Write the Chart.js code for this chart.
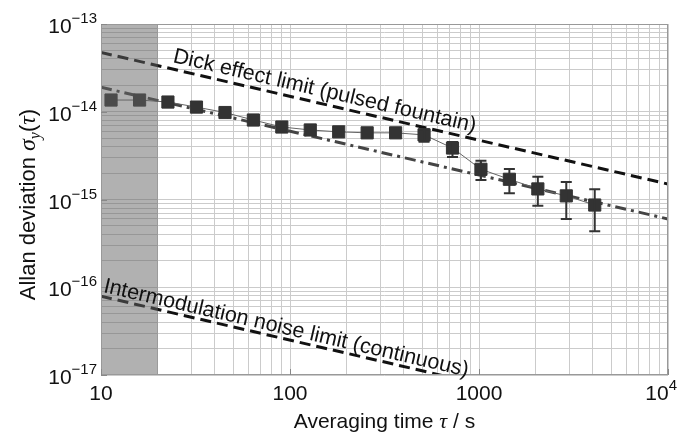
<!DOCTYPE html>
<html>
<head>
<meta charset="utf-8">
<script src="https://cdn.jsdelivr.net/npm/chart.js@4.4.1/dist/chart.umd.min.js"></script>
<style>
  body { margin: 0; background: #fff; }
  #wrap { width: 685px; height: 437px; }
</style>
</head>
<body>
<div id="wrap"><canvas id="adev" width="685" height="437"></canvas></div>
<script>
// Measured Allan deviation
const tau = [11.3, 16, 22.6, 32, 45.3, 64, 90.5, 128, 181, 256, 362, 512, 724, 1024, 1448, 2048, 2896, 4096];
const adev = [1.36e-14, 1.36e-14, 1.29e-14, 1.13e-14, 9.8e-15, 8.05e-15, 6.7e-15, 6.2e-15, 5.9e-15, 5.75e-15,
  5.75e-15, 5.45e-15, 3.86e-15, 2.21e-15, 1.70e-15, 1.32e-15, 1.10e-15, 8.65e-16];
const errLow = [null, null, null, null, null, null, null, null, null, null,
  null, 4.56e-15, 3.05e-15, 1.67e-15, 1.18e-15, 8.5e-16, 6.0e-16, 4.34e-16];
const errHigh = [null, null, null, null, null, null, null, null, null, null,
  null, 6.3e-15, 4.52e-15, 2.77e-15, 2.23e-15, 1.82e-15, 1.58e-15, 1.31e-15];

// Limit lines, values at the two ends of the tau axis
const limitTau = [10, 10000];
const dickLimit = [4.74e-14, 1.5e-15];
const fitLine = [1.9e-14, 6.0e-16];
const intermodLimit = [7.9e-17, 2.5e-18];

// Shaded region (dead time)
const bandTau = [10, 20];

// Axis ticks
const xTicks = [10, 100, 1000, 10000];
const xTickLabels = ['10', '100', '1000', '10^4'];
const yTicks = [1e-17, 1e-16, 1e-15, 1e-14, 1e-13];
const yTickLabels = ['10^\u221217', '10^\u221216', '10^\u221215', '10^\u221214', '10^\u221213'];

// Line annotations (anchor = left end of the text baseline)
const dickText = 'Dick effect limit (pulsed fountain)';
const dickTextAt = [23.8, 3.69e-14];
const intermodText = 'Intermodulation noise limit (continuous)';
const intermodTextAt = [10.2, 8.83e-17];

const SANS = '"Liberation Sans", Arial, sans-serif';
const SERIF = '"Liberation Serif", "Times New Roman", serif';

// grid lines at 1..9 x 10^n
function logGrid(loExp, hiExp) {
  const out = [];
  for (let e = loExp; e < hiExp; e++) {
    for (let m = 1; m < 10; m++) out.push(m * Math.pow(10, e));
  }
  out.push(Math.pow(10, hiExp));
  return out;
}

const toPoints = (xs, ys) => xs.map((x, i) => ({ x, y: ys[i] }));

// draw a run of text pieces with different fonts
function drawRich(ctx, parts, x, y, align) {
  let w = 0;
  parts.forEach(p => { ctx.font = p.font; w += ctx.measureText(p.text).width; });
  let cur = align === 'center' ? x - w / 2 : align === 'right' ? x - w : x;
  ctx.textAlign = 'left';
  parts.forEach(p => {
    ctx.font = p.font;
    ctx.fillText(p.text, cur, y + (p.dy || 0));
    cur += ctx.measureText(p.text).width;
  });
  return w;
}

function powParts(label) {
  const [b, s] = label.split('^');
  const parts = [{ text: b, font: '21px ' + SANS }];
  if (s) parts.push({ text: s, font: '15px ' + SANS, dy: -10 });
  return parts;
}

function partsWidth(ctx, parts) {
  let w = 0;
  parts.forEach(p => { ctx.font = p.font; w += ctx.measureText(p.text).width; });
  return w;
}

const decor = {
  id: 'decor',
  afterDatasetsDraw(chart) {
    const { ctx, chartArea: a, scales: { x, y } } = chart;
    ctx.save();

    // error bars
    ctx.strokeStyle = '#333';
    ctx.lineWidth = 2;
    tau.forEach((t, i) => {
      if (errLow[i] == null) return;
      const px = x.getPixelForValue(t);
      const y0 = y.getPixelForValue(errLow[i]);
      const y1 = y.getPixelForValue(errHigh[i]);
      ctx.beginPath();
      ctx.moveTo(px, y0); ctx.lineTo(px, y1);
      ctx.moveTo(px - 5.5, y0); ctx.lineTo(px + 5.5, y0);
      ctx.moveTo(px - 5.5, y1); ctx.lineTo(px + 5.5, y1);
      ctx.stroke();
    });

    // translucent band
    const bx0 = x.getPixelForValue(bandTau[0]);
    const bx1 = x.getPixelForValue(bandTau[1]);
    ctx.fillStyle = 'rgba(100,100,100,0.5)';
    ctx.fillRect(bx0, a.top, bx1 - bx0, a.bottom - a.top);

    // frame + inner major ticks
    ctx.strokeStyle = '#999';
    ctx.lineWidth = 1;
    ctx.strokeRect(a.left + 0.5, a.top + 0.5, a.right - a.left - 1, a.bottom - a.top - 1);
    ctx.strokeStyle = '#888';
    ctx.beginPath();
    xTicks.forEach(v => {
      const px = Math.round(x.getPixelForValue(v)) + 0.5;
      ctx.moveTo(px, a.bottom); ctx.lineTo(px, a.bottom - 6);
    });
    yTicks.forEach(v => {
      const py = Math.round(y.getPixelForValue(v)) + 0.5;
      ctx.moveTo(a.left, py); ctx.lineTo(a.left + 6, py);
    });
    ctx.stroke();

    // rotated line labels
    ctx.fillStyle = '#111';
    ctx.font = '21.5px ' + SANS;
    ctx.textAlign = 'left';
    ctx.textBaseline = 'alphabetic';
    [[dickText, dickTextAt, dickLimit], [intermodText, intermodTextAt, intermodLimit]].forEach(([txt, at, line]) => {
      const ang = Math.atan2(y.getPixelForValue(line[1]) - y.getPixelForValue(line[0]),
        x.getPixelForValue(limitTau[1]) - x.getPixelForValue(limitTau[0]));
      ctx.save();
      ctx.translate(x.getPixelForValue(at[0]), y.getPixelForValue(at[1]));
      ctx.rotate(ang);
      ctx.fillText(txt, 0, 0);
      ctx.restore();
    });

    ctx.restore();
  },
  afterDraw(chart) {
    const { ctx, chartArea: a, scales: { x, y } } = chart;
    ctx.save();
    ctx.fillStyle = '#111';
    ctx.textBaseline = 'alphabetic';

    // tick labels
    xTicks.forEach((v, i) => {
      const parts = powParts(xTickLabels[i]);
      const w = partsWidth(ctx, parts);
      const cx = Math.min(x.getPixelForValue(v), chart.width - 8 - w / 2);
      drawRich(ctx, parts, cx, 400, 'center');
    });
    yTicks.forEach((v, i) => {
      drawRich(ctx, powParts(yTickLabels[i]), 97, y.getPixelForValue(v) + 9, 'right');
    });

    // axis titles
    drawRich(ctx, [
      { text: 'Averaging time ', font: '21px ' + SANS },
      { text: '\u03c4', font: 'italic 22px ' + SERIF },
      { text: ' / s', font: '21px ' + SANS }
    ], (a.left + a.right) / 2, 428, 'center');

    ctx.save();
    ctx.translate(35, (a.top + a.bottom) / 2 + 5);
    ctx.rotate(-Math.PI / 2);
    drawRich(ctx, [
      { text: 'Allan deviation ', font: '22px ' + SANS },
      { text: '\u03c3', font: 'italic 24px ' + SERIF },
      { text: 'y', font: 'italic 16px ' + SERIF, dy: 5 },
      { text: '(', font: '22px ' + SANS },
      { text: '\u03c4', font: 'italic 24px ' + SERIF },
      { text: ')', font: '22px ' + SANS }
    ], 0, 0, 'center');
    ctx.restore();

    ctx.restore();
  }
};

const xGrid = logGrid(1, 4);
const yGrid = logGrid(-17, -13);

new Chart(document.getElementById('adev'), {
  type: 'scatter',
  data: {
    datasets: [
      {
        label: 'measured',
        data: toPoints(tau, adev),
        showLine: true,
        borderColor: '#666',
        borderWidth: 1,
        pointStyle: 'rect',
        pointRadius: 8.6,
        pointBackgroundColor: '#333',
        pointBorderColor: '#333',
        pointBorderWidth: 1
      },
      {
        label: 'fit',
        data: toPoints(limitTau, fitLine),
        showLine: true,
        borderColor: '#444',
        borderWidth: 3,
        borderDash: [11, 5, 3, 5],
        pointRadius: 0,
        clip: 0
      },
      {
        label: 'Dick effect',
        data: toPoints(limitTau, dickLimit),
        showLine: true,
        borderColor: '#111',
        borderWidth: 3,
        borderDash: [11, 6],
        pointRadius: 0,
        clip: 0
      },
      {
        label: 'Intermodulation',
        data: toPoints(limitTau, intermodLimit),
        showLine: true,
        borderColor: '#111',
        borderWidth: 3,
        borderDash: [11, 6],
        pointRadius: 0,
        clip: 0
      }
    ]
  },
  options: {
    responsive: false,
    animation: false,
    devicePixelRatio: 1,
    events: [],
    layout: { padding: { left: 0, right: 17, top: 24, bottom: 0 } },
    plugins: { legend: { display: false }, tooltip: { enabled: false } },
    scales: {
      x: {
        type: 'logarithmic',
        min: 10,
        max: 10000,
        afterBuildTicks: s => { s.ticks = xGrid.map(v => ({ value: v })); },
        afterFit: s => { s.height = 62; },
        ticks: { display: false },
        grid: { color: '#cbcbcb', drawTicks: false },
        border: { display: false }
      },
      y: {
        type: 'logarithmic',
        min: 1e-17,
        max: 1e-13,
        afterBuildTicks: s => { s.ticks = yGrid.map(v => ({ value: v })); },
        afterFit: s => { s.width = 101; },
        ticks: { display: false },
        grid: { color: '#cbcbcb', drawTicks: false },
        border: { display: false }
      }
    }
  },
  plugins: [decor]
});
</script>
</body>
</html>
